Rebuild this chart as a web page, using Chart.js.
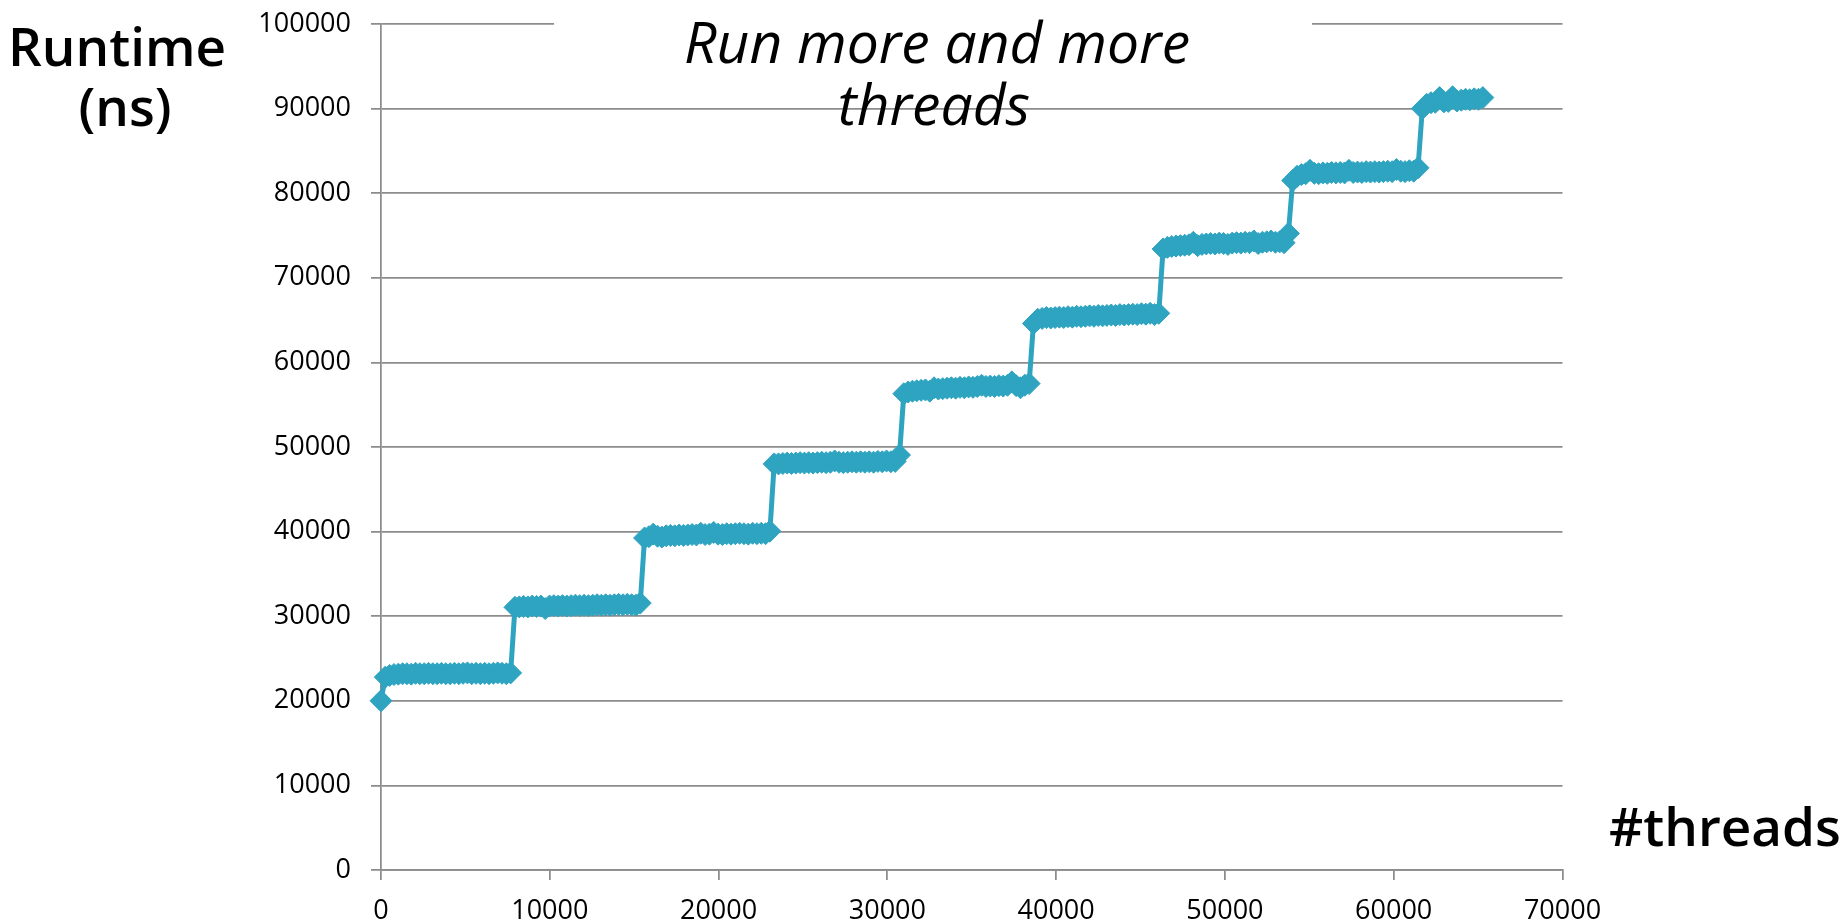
<!DOCTYPE html>
<html>
<head>
<meta charset="utf-8">
<script src="https://cdn.jsdelivr.net/npm/chart.js@4.4.1/dist/chart.umd.min.js"></script>
<style>
html,body{margin:0;padding:0;background:#ffffff;overflow:hidden}
#wrap{width:1848px;height:924px;position:relative}
</style>
</head>
<body>
<div id="wrap"><canvas id="c" width="1848" height="924"></canvas></div>
<script>
// ---- data ----
const threads = [
  0,
  256,512,768,1024,1280,1536,1792,2048,2304,2560,2816,3072,3328,3584,3840,4096,4352,4608,4864,5120,5376,5632,5888,6144,6400,6656,6912,7168,7424,7680,
  7936,8192,8448,8704,8960,9216,9472,9728,9984,10240,10496,10752,11008,11264,11520,11776,12032,12288,12544,12800,13056,13312,13568,13824,14080,14336,14592,14848,15104,15360,
  15616,15872,16128,16384,16640,16896,17152,17408,17664,17920,18176,18432,18688,18944,19200,19456,19712,19968,20224,20480,20736,20992,21248,21504,21760,22016,22272,22528,22784,23040,
  23296,23552,23808,24064,24320,24576,24832,25088,25344,25600,25856,26112,26368,26624,26880,27136,27392,27648,27904,28160,28416,28672,28928,29184,29440,29696,29952,30208,30464,30720,
  30976,31232,31488,31744,32000,32256,32512,32768,33024,33280,33536,33792,34048,34304,34560,34816,35072,35328,35584,35840,36096,36352,36608,36864,37120,37376,37632,37888,38144,38400,
  38656,38912,39168,39424,39680,39936,40192,40448,40704,40960,41216,41472,41728,41984,42240,42496,42752,43008,43264,43520,43776,44032,44288,44544,44800,45056,45312,45568,45824,46080,
  46336,46592,46848,47104,47360,47616,47872,48128,48384,48640,48896,49152,49408,49664,49920,50176,50432,50688,50944,51200,51456,51712,51968,52224,52480,52736,52992,53248,53504,53760,
  54016,54272,54528,54784,55040,55296,55552,55808,56064,56320,56576,56832,57088,57344,57600,57856,58112,58368,58624,58880,59136,59392,59648,59904,60160,60416,60672,60928,61184,61440,
  61696,61952,62208,62464,62720,62976,63232,63488,63744,64000,64256,64512,64768,65024,65280
];

const runtimeNs = [
  20000,
  22800,23000,23100,23150,23200,23200,23150,23250,23200,23200,23250,23200,23200,23250,23200,23200,23250,23200,23250,23300,23200,23250,23200,23250,23200,23250,23300,23250,23200,23300,
  31050,31100,31150,31100,31200,31150,31200,30900,31200,31250,31200,31250,31200,31250,31300,31250,31300,31250,31300,31350,31300,31350,31300,31350,31400,31350,31400,31350,31300,31550,
  39250,39400,39700,39450,39350,39500,39550,39500,39600,39550,39600,39650,39600,39800,39650,39700,39900,39700,39650,39750,39700,39750,39800,39750,39700,39800,39750,39800,39750,40050,
  48000,48000,48050,48100,48050,48100,48150,48100,48150,48100,48150,48200,48150,48200,48350,48200,48150,48200,48250,48200,48250,48200,48250,48200,48300,48250,48350,48250,48300,49050,
  56300,56500,56600,56650,56700,56750,56600,57000,56850,56900,56950,57000,56950,57050,57000,57100,57050,57150,57300,57150,57200,57150,57250,57200,57300,57700,57250,57000,57300,57500,
  64600,65100,65200,65300,65250,65300,65350,65300,65400,65350,65450,65400,65450,65500,65450,65550,65500,65550,65600,65550,65650,65600,65650,65700,65650,65750,65700,65800,65650,65800,
  73400,73600,73700,73750,73800,73850,73900,74200,73800,73950,74000,74050,74000,74100,74050,73950,74100,74150,74100,74200,74150,74350,74050,74200,74250,74350,74200,74250,74150,75250,
  81500,82000,82200,82300,82700,82350,82300,82400,82350,82450,82400,82450,82400,82700,82450,82500,82450,82550,82500,82550,82500,82550,82600,82550,82800,82600,82550,82650,82600,83000,
  90000,90500,90700,90750,91300,90800,90850,91400,90900,91000,91100,91050,91150,91100,91300
];

const xTickLabels = ['0','10000','20000','30000','40000','50000','60000','70000'];
const yTickLabels = ['0','10000','20000','30000','40000','50000','60000','70000','80000','90000','100000'];

const chartTitle = ['Run more and more', 'threads'];
const yAxisTitle = ['Runtime', '(ns)'];
const xAxisTitle = '#threads';

// ---- styles ----
const GRID = '#8c8c8c';
const SERIES = '#2ea4c1';
const FONT = '"Open Sans", "Noto Sans", "DejaVu Sans", sans-serif';

const textPlugin = {
  id: 'slideTexts',
  afterDraw(chart) {
    const c = chart.ctx;
    c.save();
    // title box (white fill hides the top gridline behind the title)
    c.fillStyle = '#ffffff';
    c.fillRect(554, 12, 758, 24);
    c.fillStyle = '#000000';
    c.textAlign = 'center';
    c.textBaseline = 'alphabetic';
    c.font = 'italic 57px ' + FONT;
    c.fillText(chartTitle[0], 937, 63);
    c.fillText(chartTitle[1], 934, 125);
    c.font = '600 53px ' + FONT;
    c.fillText(yAxisTitle[0], 117, 66);
    c.fillText(yAxisTitle[1], 125, 126);
    c.fillText(xAxisTitle, 1725, 846);
    c.restore();
  }
};

const noPad = s => { s.paddingTop = 0; s.paddingBottom = 0; s.paddingLeft = 0; s.paddingRight = 0; };

new Chart(document.getElementById('c'), {
  type: 'line',
  data: {
    datasets: [{
      data: threads.map((t, i) => ({ x: t, y: runtimeNs[i] })),
      borderColor: SERIES,
      backgroundColor: SERIES,
      borderWidth: 5,
      tension: 0,
      pointStyle: 'rectRot',
      pointRadius: 11,
      pointBorderWidth: 1,
      pointBackgroundColor: SERIES,
      pointBorderColor: SERIES,
      clip: false
    }]
  },
  options: {
    responsive: false,
    animation: false,
    devicePixelRatio: 1,
    layout: { padding: { left: 0, right: 285.5, top: 24, bottom: 0 } },
    plugins: { legend: { display: false }, tooltip: { enabled: false }, title: { display: false } },
    scales: {
      x: {
        type: 'linear',
        min: 0, max: 70000,
        afterFit: s => { s.height = 54; noPad(s); },
        ticks: {
          stepSize: 10000,
          padding: 15,
          color: '#000000',
          font: { family: FONT, size: 27 },
          maxRotation: 0,
          callback: (v, i) => xTickLabels[i]
        },
        grid: { drawOnChartArea: false, drawTicks: true, tickLength: 10, color: GRID, lineWidth: 1.75 },
        border: { display: true, color: GRID, width: 1.75 }
      },
      y: {
        type: 'linear',
        min: 0, max: 100000,
        afterFit: s => { s.width = 381; noPad(s); },
        ticks: {
          stepSize: 10000,
          padding: 20,
          color: '#000000',
          font: { family: FONT, size: 27 },
          callback: (v, i) => yTickLabels[i]
        },
        grid: { drawOnChartArea: true, drawTicks: true, tickLength: 10, color: GRID, lineWidth: 1.75 },
        border: { display: true, color: GRID, width: 1.75 }
      }
    }
  },
  plugins: [textPlugin]
});
</script>
</body>
</html>
